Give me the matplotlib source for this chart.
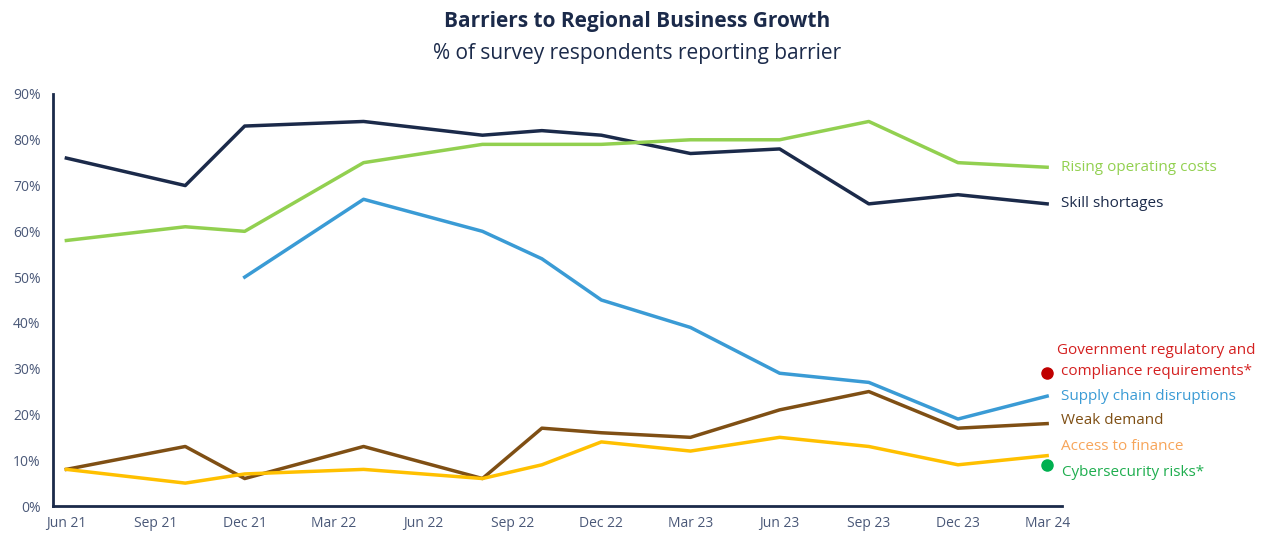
import matplotlib
matplotlib.use("Agg")
import matplotlib.pyplot as plt
import numpy as np

plt.rcParams['font.family'] = ['Open Sans', 'DejaVu Sans']

# months since Jun 2021 at which survey points were taken
survey_dates = ["Jun 21", "Oct 21", "Dec 21", "Apr 22", "Aug 22", "Oct 22",
                "Dec 22", "Mar 23", "Jun 23", "Sep 23", "Dec 23", "Mar 24"]
survey_month = [0, 4, 6, 10, 14, 16, 18, 21, 24, 27, 30, 33]

tick_labels = ["Jun 21", "Sep 21", "Dec 21", "Mar 22", "Jun 22", "Sep 22",
               "Dec 22", "Mar 23", "Jun 23", "Sep 23", "Dec 23", "Mar 24"]
tick_month = [0, 3, 6, 9, 12, 15, 18, 21, 24, 27, 30, 33]

skill_shortages = [76, 70, 83, 84, 81, 82, 81, 77, 78, 66, 68, 66]
rising_costs = [58, 61, 60, 75, 79, 79, 79, 80, 80, 84, 75, 74]
supply_chain = [None, None, 50, 67, 60, 54, 45, 39, 29, 27, 19, 24]
weak_demand = [8, 13, 6, 13, 6, 17, 16, 15, 21, 25, 17, 18]
access_finance = [8, 5, 7, 8, 6, 9, 14, 12, 15, 13, 9, 11]
gov_regulatory = 29   # Mar 24 only
cybersecurity = 9     # Mar 24 only

NAVY = "#1b2a4a"
GREEN = "#92d050"
BLUE = "#3a9bd5"
BROWN = "#7f4f14"
YELLOW = "#ffc000"

fig = plt.figure(figsize=(12.74, 5.36), dpi=100)
ax = fig.add_axes([53 / 1274, 30 / 536, (1062 - 53) / 1274, (506 - 94) / 536])

def to_arr(v):
    return np.array([np.nan if x is None else x for x in v], dtype=float)

x = np.array(survey_month, dtype=float)
lw = 2.5
ax.plot(x, to_arr(skill_shortages), color=NAVY, lw=lw)
ax.plot(x, to_arr(rising_costs), color=GREEN, lw=lw)
ax.plot(x, to_arr(supply_chain), color=BLUE, lw=lw)
ax.plot(x, to_arr(weak_demand), color=BROWN, lw=lw)
ax.plot(x, to_arr(access_finance), color=YELLOW, lw=lw)
ax.plot([x[-1]], [gov_regulatory], 'o', color="#c00000", ms=8, clip_on=False)
ax.plot([x[-1]], [cybersecurity], 'o', color="#00b050", ms=8, clip_on=False)

ax.set_ylim(0, 90)
ax.set_xlim(-0.45, 33.5)
ax.set_yticks(np.arange(0, 91, 10))
ax.set_yticklabels([f"{v}%" for v in range(0, 91, 10)])
ax.set_xticks(tick_month)
ax.set_xticklabels(tick_labels)
ax.tick_params(length=0, labelsize=10, colors="#4a5878", pad=7)
ax.tick_params(axis='y', pad=9)
for s in ['top', 'right']:
    ax.spines[s].set_visible(False)
for s in ['left', 'bottom']:
    ax.spines[s].set_color(NAVY)
    ax.spines[s].set_linewidth(2)

# end labels
lx = 33.45
fs = 11
ax.text(lx, rising_costs[-1], "Rising operating costs", color=GREEN, fontsize=fs, va='center', clip_on=False)
ax.text(lx, skill_shortages[-1], "Skill shortages", color=NAVY, fontsize=fs, va='center', clip_on=False)
ax.text(33.34, 31.7, "Government regulatory and\ncompliance requirements*", color="#d42020", fontsize=fs,
        va='center', ha='left', multialignment='center', linespacing=1.55, clip_on=False)
ax.text(lx, supply_chain[-1], "Supply chain disruptions", color=BLUE, fontsize=fs, va='center', clip_on=False)
ax.text(lx, 18.6, "Weak demand", color=BROWN, fontsize=fs, va='center', clip_on=False)
ax.text(lx, 12.9, "Access to finance", color="#f7a55a", fontsize=fs, va='center', clip_on=False)
ax.text(33.5, 7.4, "Cybersecurity risks*", color="#1fae4f", fontsize=fs, va='center', clip_on=False)

fig.text(0.5, 1 - 22 / 536, "Barriers to Regional Business Growth", ha='center', va='center',
         fontsize=15, fontweight='bold', color=NAVY)
fig.text(0.5, 1 - 53 / 536, "% of survey respondents reporting barrier", ha='center', va='center',
         fontsize=15, color=NAVY)

fig.savefig("out.png", dpi=100)
